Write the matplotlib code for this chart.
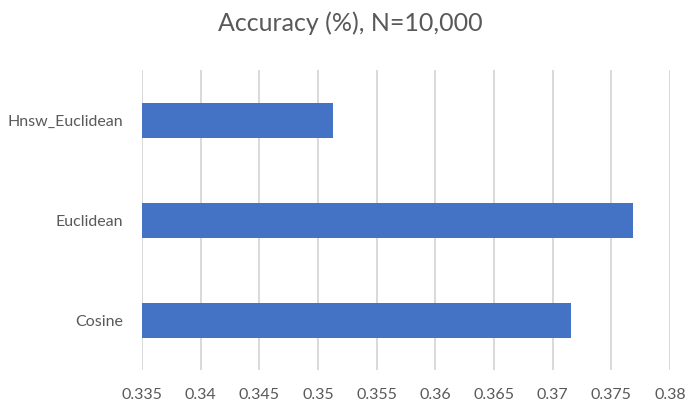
import matplotlib
matplotlib.use("Agg")
import matplotlib.pyplot as plt

# accuracy per distance metric
categories = ["Cosine", "Euclidean", "Hnsw_Euclidean"]
accuracy = [0.37155, 0.37684, 0.35125]
xticks = [0.335, 0.34, 0.345, 0.35, 0.355, 0.36, 0.365, 0.37, 0.375, 0.38]

plt.rcParams['font.family'] = ['Lato', 'DejaVu Sans']
text_color = '#595959'

fig = plt.figure(figsize=(7, 4.2), dpi=100)
ax = fig.add_axes([0.203, 0.119, 0.754, 0.714])

ax.barh(range(len(categories)), accuracy, height=0.35, left=0,
        color='#4472C4', zorder=3)

ax.set_xlim(0.335, 0.38)
ax.set_ylim(-0.5, len(categories) - 0.5)
ax.set_xticks(xticks)
ax.set_xticklabels([f"{t:g}" for t in xticks])
ax.set_yticks(range(len(categories)))
ax.set_yticklabels(categories)

ax.grid(axis='x', color='#d9d9d9', linewidth=1.4, zorder=0)
for s in ax.spines.values():
    s.set_visible(False)
ax.tick_params(length=0, labelsize=11.5, colors=text_color)
ax.tick_params(axis='x', pad=13)
ax.tick_params(axis='y', pad=14)

fig.text(0.5, 0.945, "Accuracy (%), N=10,000", ha='center', va='center',
         fontsize=18, color=text_color)

fig.savefig("out.png", dpi=100)
